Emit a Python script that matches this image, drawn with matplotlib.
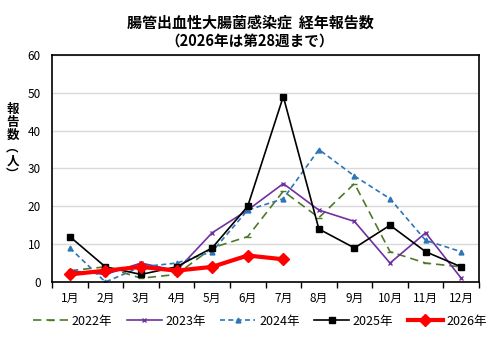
import matplotlib
matplotlib.use("Agg")
import matplotlib.pyplot as plt
from matplotlib.ticker import FixedLocator, NullFormatter

plt.rcParams['font.family'] = ['Noto Sans CJK JP', 'DejaVu Sans']

months = ["1月", "2月", "3月", "4月", "5月", "6月", "7月", "8月", "9月", "10月", "11月", "12月"]
y2022 = [3, 4, 1, 2, 9, 12, 24, 17, 26, 8, 5, 4]
y2023 = [3, 2, 5, 3, 13, 19, 26, 19, 16, 5, 13, 1]
y2024 = [9, 0, 4, 5, 8, 19, 22, 35, 28, 22, 11, 8]
y2025 = [12, 4, 2, 4, 9, 20, 49, 14, 9, 15, 8, 4]
y2026 = [2, 3, 4, 3, 4, 7, 6]

fig = plt.figure(figsize=(5.0, 3.41), dpi=100)
ax = fig.add_axes([0.104, 0.173, 0.854, 0.666])

x = list(range(len(months)))
ax.plot(x, y2022, color="#4E7A27", ls=(0, (5, 3)), lw=1.2, marker="_", ms=4, label="2022年")
ax.plot(x, y2023, color="#7030A0", lw=1.2, marker="x", ms=3.5, mew=1, label="2023年")
ax.plot(x, y2024, color="#2E75B6", ls=(0, (3, 2)), lw=1.2, marker="^", ms=3.5, label="2024年")
ax.plot(x, y2025, color="black", lw=1.2, marker="s", ms=4, label="2025年")
ax.plot(x[:len(y2026)], y2026, color="#FF0000", lw=3, marker="D", ms=6, label="2026年")

ax.set_xlim(-0.5, 11.5)
ax.set_ylim(0, 60)
ax.set_yticks(range(0, 61, 10))
ax.set_xticks(x)
ax.set_xticklabels(months, fontsize=8.5)
ax.xaxis.set_minor_locator(FixedLocator([i + 0.5 for i in range(-1, 12)]))
ax.xaxis.set_minor_formatter(NullFormatter())
ax.tick_params(axis="x", which="major", length=0, pad=7)
ax.tick_params(axis="x", which="minor", length=4, width=1, direction="out")
ax.tick_params(axis="y", length=0, labelsize=8.5, pad=8)
ax.grid(axis="y", color="#D9D9D9", lw=1)
ax.set_axisbelow(True)
for sp in ax.spines.values():
    sp.set_color("black")
    sp.set_linewidth(1.2)

fig.text(0.5, 0.935, "腸管出血性大腸菌感染症  経年報告数", ha="center", va="center",
         fontsize=10.8, fontweight="bold")
fig.text(0.5, 0.880, "（2026年は第28週まで）", ha="center", va="center",
         fontsize=10.5, fontweight="bold")
fig.text(0.025, 0.585, "報\n告\n数\n︵\n人\n︶", ha="center", va="center",
         fontsize=9, fontweight="bold", linespacing=1.0)

fig.legend(loc="center", bbox_to_anchor=(0.52, 0.058), ncol=5, frameon=False,
           fontsize=9, handlelength=2.8, columnspacing=1.15, handletextpad=0.3,
           borderaxespad=0, borderpad=0)

fig.savefig("out.png", dpi=100)
